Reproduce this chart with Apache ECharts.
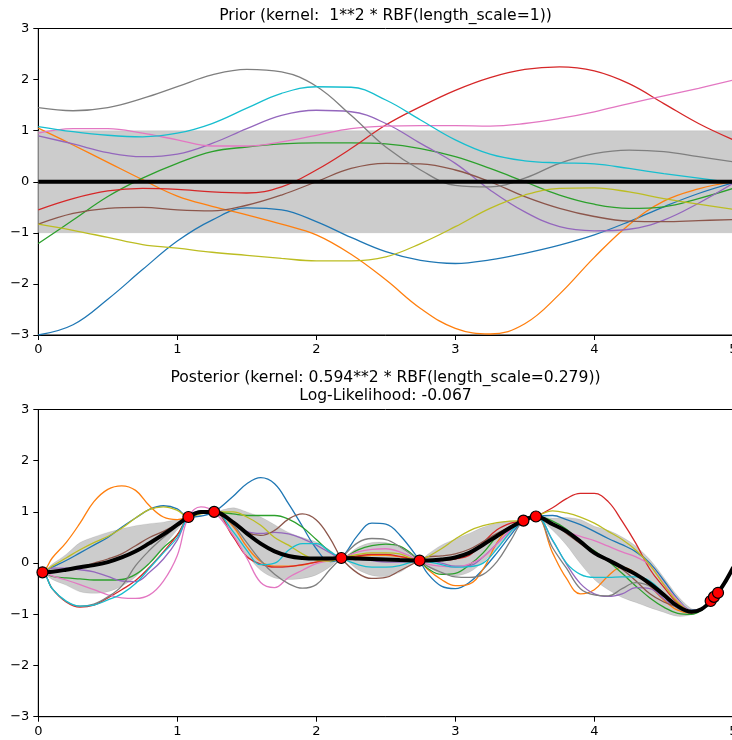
<!DOCTYPE html>
<html><head><meta charset="utf-8">
<script src="https://cdn.jsdelivr.net/npm/echarts@6/dist/echarts.min.js"></script>
<style>html,body{margin:0;padding:0;background:#fff}#c{width:732px;height:740px}</style>
</head><body><div id="c"></div><script>
// ---------- Prior (top panel) ----------
const priorX = [0,0.25,0.5,0.75,1,1.25,1.5,1.75,2,2.25,2.5,2.75,3,3.25,3.5,3.75,4,4.25,4.5,4.75,5];
const priorMean = [0,0,0,0,0,0,0,0,0,0,0,0,0,0,0,0,0,0,0,0,0];
const priorStd  = [1,1,1,1,1,1,1,1,1,1,1,1,1,1,1,1,1,1,1,1,1];
const priorBlue   = [-3.0,-2.8,-2.3,-1.72,-1.16,-0.75,-0.51,-0.55,-0.78,-1.09,-1.37,-1.54,-1.6,-1.53,-1.4,-1.24,-1.04,-0.78,-0.49,-0.23,-0.02];
const priorOrange = [1.05,0.72,0.38,0.04,-0.28,-0.48,-0.65,-0.83,-1.04,-1.42,-1.92,-2.48,-2.87,-2.98,-2.78,-2.2,-1.48,-0.84,-0.38,-0.14,0.0];
const priorGreen  = [-1.21,-0.75,-0.29,0.07,0.36,0.59,0.68,0.74,0.76,0.76,0.74,0.65,0.49,0.26,0.0,-0.26,-0.44,-0.52,-0.49,-0.33,-0.13];
const priorRed    = [-0.55,-0.33,-0.18,-0.13,-0.15,-0.2,-0.22,-0.1,0.23,0.65,1.11,1.47,1.79,2.04,2.2,2.25,2.17,1.92,1.53,1.14,0.82];
const priorPurple = [0.9,0.74,0.57,0.49,0.54,0.75,1.04,1.3,1.4,1.37,1.14,0.75,0.36,-0.16,-0.59,-0.88,-0.96,-0.93,-0.75,-0.42,-0.03];
const priorBrown  = [-0.83,-0.62,-0.52,-0.5,-0.55,-0.57,-0.46,-0.26,0.0,0.26,0.36,0.35,0.23,0.0,-0.29,-0.52,-0.68,-0.77,-0.78,-0.76,-0.74];
const priorPink   = [0.95,1.04,1.04,0.95,0.82,0.7,0.7,0.78,0.91,1.04,1.09,1.1,1.1,1.09,1.14,1.24,1.37,1.53,1.68,1.83,1.99];
const priorGray   = [1.45,1.39,1.45,1.63,1.86,2.09,2.2,2.15,1.87,1.3,0.68,0.23,-0.07,-0.1,0.07,0.36,0.55,0.62,0.59,0.49,0.39];
const priorOlive  = [-0.83,-0.95,-1.09,-1.23,-1.3,-1.38,-1.44,-1.5,-1.55,-1.55,-1.47,-1.21,-0.88,-0.52,-0.26,-0.13,-0.12,-0.2,-0.33,-0.44,-0.54];
const priorCyan   = [1.08,0.98,0.91,0.88,0.95,1.14,1.44,1.73,1.86,1.85,1.6,1.21,0.82,0.54,0.41,0.37,0.35,0.26,0.16,0.07,-0.02];

// ---------- Posterior (bottom panel) ----------
const postX = [0,0.03,0.1,0.2,0.3,0.4,0.5,0.6,0.7,0.8,0.9,1.0,1.08,1.17,1.265,1.4,1.5,1.6,1.7,1.8,1.9,2.0,2.1,2.18,2.3,2.4,2.5,2.6,2.743,2.8,2.9,3.0,3.1,3.2,3.3,3.4,3.49,3.58,3.7,3.8,3.9,4.0,4.1,4.2,4.3,4.4,4.5,4.6,4.7,4.77,4.84,4.92,5.0];
const postMean = [-0.19,-0.18,-0.17,-0.13,-0.08,-0.04,0.02,0.11,0.23,0.39,0.56,0.75,0.9,1.0,1.0,0.8,0.58,0.38,0.23,0.14,0.1,0.09,0.09,0.1,0.09,0.08,0.07,0.06,0.05,0.05,0.07,0.11,0.2,0.36,0.53,0.7,0.83,0.91,0.76,0.62,0.42,0.2,0.06,-0.08,-0.22,-0.4,-0.62,-0.84,-0.95,-0.9,-0.74,-0.46,-0.08];
const postStd  = [0.05,0,0.15,0.3,0.48,0.55,0.58,0.56,0.5,0.38,0.24,0.1,0,0.02,0,0.28,0.42,0.52,0.52,0.46,0.4,0.32,0.16,0,0.22,0.32,0.33,0.24,0,0.12,0.28,0.36,0.38,0.34,0.25,0.12,0,0,0.12,0.27,0.43,0.52,0.58,0.59,0.55,0.47,0.34,0.2,0.06,0.02,0,0.01,0.04];
const postBlue   = [-0.19,-0.18,-0.08,0.05,0.2,0.35,0.5,0.7,0.88,1.05,1.12,1.06,0.9,0.92,1.0,1.3,1.55,1.67,1.55,1.16,0.72,0.28,0.03,0.1,0.55,0.78,0.76,0.55,0.05,-0.2,-0.45,-0.5,-0.38,-0.12,0.2,0.55,0.83,0.91,0.93,0.85,0.75,0.62,0.48,0.36,0.22,0.0,-0.34,-0.7,-0.92,-0.9,-0.74,-0.46,-0.08];
const postOrange = [-0.19,-0.18,0.1,0.4,0.78,1.2,1.44,1.51,1.42,1.12,0.9,0.85,0.9,0.97,1.0,0.72,0.32,0.03,-0.06,-0.06,-0.04,0.02,0.07,0.1,0.13,0.15,0.15,0.12,0.05,-0.12,-0.32,-0.44,-0.41,-0.12,0.4,0.72,0.83,0.91,0.2,-0.3,-0.6,-0.52,-0.25,-0.08,-0.2,-0.45,-0.72,-0.92,-0.98,-0.91,-0.74,-0.46,-0.08];
const postGreen  = [-0.19,-0.18,-0.26,-0.29,-0.31,-0.33,-0.33,-0.32,-0.22,0.0,0.3,0.55,0.9,1.0,1.0,0.96,0.93,0.93,0.93,0.86,0.7,0.46,0.22,0.1,0.26,0.34,0.37,0.33,0.05,-0.1,-0.22,-0.2,-0.04,0.2,0.52,0.72,0.83,0.91,0.82,0.66,0.42,0.24,0.04,-0.2,-0.45,-0.68,-0.86,-0.98,-1.0,-0.92,-0.74,-0.46,-0.08];
const postRed    = [-0.19,-0.18,-0.5,-0.76,-0.86,-0.82,-0.68,-0.52,-0.34,-0.08,0.22,0.55,0.9,1.0,1.0,0.52,0.13,-0.02,-0.08,-0.07,-0.03,0.02,0.06,0.1,0.14,0.17,0.17,0.13,0.05,0.04,0.05,0.08,0.15,0.4,0.65,0.78,0.83,0.91,1.08,1.26,1.36,1.36,1.2,0.82,0.38,-0.12,-0.47,-0.78,-0.94,-0.9,-0.74,-0.46,-0.08];
const postPurple = [-0.19,-0.18,-0.1,-0.1,-0.13,-0.17,-0.26,-0.35,-0.36,-0.18,0.08,0.45,0.9,1.02,1.0,0.78,0.62,0.58,0.6,0.57,0.48,0.35,0.2,0.1,0.08,0.05,0.02,0.02,0.05,0.05,0.0,-0.06,-0.05,0.12,0.38,0.65,0.83,0.91,0.44,-0.02,-0.4,-0.6,-0.65,-0.6,-0.48,-0.5,-0.7,-0.88,-0.96,-0.9,-0.74,-0.46,-0.08];
const postBrown  = [-0.19,-0.18,-0.15,-0.12,-0.08,0.0,0.08,0.18,0.34,0.5,0.62,0.76,0.9,1.0,1.0,0.8,0.6,0.54,0.64,0.86,0.96,0.84,0.48,0.1,-0.2,-0.3,-0.28,-0.15,0.05,0.12,0.14,0.18,0.27,0.42,0.58,0.72,0.83,0.91,0.78,0.58,0.38,0.2,0.04,-0.12,-0.35,-0.6,-0.76,-0.86,-0.95,-0.9,-0.74,-0.46,-0.08];
const postPink   = [-0.19,-0.18,-0.25,-0.33,-0.42,-0.52,-0.62,-0.68,-0.69,-0.62,-0.35,0.15,0.9,1.1,1.0,0.55,0.1,-0.38,-0.48,-0.28,-0.14,-0.01,0.05,0.1,0.22,0.27,0.28,0.22,0.05,-0.02,-0.06,-0.08,-0.02,0.12,0.38,0.65,0.83,0.91,0.78,0.62,0.52,0.44,0.33,0.22,0.12,-0.04,-0.4,-0.72,-0.93,-0.9,-0.74,-0.46,-0.08];
const postGray   = [-0.19,-0.18,-0.5,-0.75,-0.84,-0.8,-0.66,-0.45,-0.05,0.25,0.5,0.72,0.9,1.0,1.0,0.75,0.4,0.05,-0.22,-0.4,-0.49,-0.42,-0.12,0.1,0.4,0.48,0.46,0.32,0.05,-0.06,-0.18,-0.27,-0.28,-0.22,0.03,0.45,0.83,0.91,0.3,-0.1,-0.5,-0.62,-0.64,-0.5,-0.38,-0.45,-0.65,-0.88,-0.97,-0.9,-0.74,-0.46,-0.08];
const postOlive  = [-0.19,-0.18,-0.06,0.1,0.26,0.4,0.52,0.68,0.88,1.05,1.1,1.03,0.9,0.96,1.0,1.0,0.9,0.74,0.5,0.35,0.18,0.06,0.04,0.1,0.17,0.2,0.2,0.18,0.05,0.12,0.28,0.47,0.63,0.73,0.79,0.82,0.83,0.91,1.02,0.98,0.9,0.78,0.62,0.46,0.25,-0.04,-0.42,-0.76,-0.94,-0.9,-0.74,-0.46,-0.08];
const postCyan   = [-0.19,-0.18,-0.5,-0.74,-0.84,-0.82,-0.72,-0.6,-0.4,-0.1,0.2,0.5,0.9,0.98,1.0,0.62,0.25,-0.03,0.0,0.25,0.38,0.38,0.22,0.1,-0.03,-0.08,-0.08,-0.05,0.05,0.03,-0.03,-0.08,-0.07,0.0,0.28,0.62,0.83,0.91,0.45,0.0,-0.22,-0.28,-0.28,-0.27,-0.27,-0.35,-0.6,-0.85,-0.96,-0.9,-0.74,-0.46,-0.08];

const trainX = [0.03,1.08,1.265,2.18,2.743,3.49,3.58,4.837,4.861,4.89];
const trainY = [-0.18,0.9,1.0,0.1,0.05,0.83,0.91,-0.74,-0.66,-0.58];

const xTicks = [0,1,2,3,4,5];
const yTicks = [-3,-2,-1,0,1,2,3];

const priorTitle = 'Prior (kernel:  1**2 * RBF(length_scale=1))';
const postTitle = 'Posterior (kernel: 0.594**2 * RBF(length_scale=0.279))\nLog-Likelihood: -0.067';

// ---------- build ----------
const tab10 = ['#1f77b4','#ff7f0e','#2ca02c','#d62728','#9467bd','#8c564b','#e377c2','#7f7f7f','#bcbd22','#17becf'];
const FONT = 'DejaVu Sans';
const pairs = (xs, ys) => xs.map((x, i) => [x, ys[i]]);
const minus = v => (v < 0 ? '\u2212' + Math.abs(v) : String(v));

function xAxis(g) {
  return {type:'value', gridIndex:g, min:xTicks[0], max:xTicks[xTicks.length-1], interval:1,
    axisLine:{show:true, onZero:false, lineStyle:{color:'#000', width:1}},
    axisTick:{show:true, length:5, inside:false, lineStyle:{color:'#000', width:1}},
    axisLabel:{show:true, color:'#000', fontSize:13, fontFamily:FONT, margin:8, formatter:minus, showMinLabel:true, showMaxLabel:true, hideOverlap:false},
    splitLine:{show:false}};
}
function yAxis(g) {
  return {type:'value', gridIndex:g, min:yTicks[0], max:yTicks[yTicks.length-1], interval:1,
    axisLine:{show:true, onZero:false, lineStyle:{color:'#000', width:1}},
    axisTick:{show:true, length:5, inside:false, lineStyle:{color:'#000', width:1}},
    axisLabel:{show:true, color:'#000', fontSize:13, fontFamily:FONT, margin:9, formatter:minus, showMinLabel:true, showMaxLabel:true, hideOverlap:false},
    splitLine:{show:false}};
}
// mean ± std band drawn as one polygon through the axis scales
function band(g, xs, mean, std, smooth) {
  return {type:'custom', coordinateSystem:'cartesian2d', xAxisIndex:g, yAxisIndex:g,
    data:[[xs[0], mean[0]]], silent:true, z:1, clip:true,
    renderItem:function(params, api) {
      const up = xs.map((x, i) => api.coord([x, mean[i] + std[i]]));
      const lo = xs.map((x, i) => api.coord([x, mean[i] - std[i]])).reverse();
      return {type:'polygon', shape:{points:up.concat(lo), smooth:smooth},
        style:{fill:'#cccccc', stroke:'rgba(0,0,0,0.1)', lineWidth:0.8}};
    }};
}
function sample(g, xs, ys, c, k) {
  return {type:'line', xAxisIndex:g, yAxisIndex:g, data:pairs(xs, ys), symbol:'none', smooth:0.4,
    silent:true, z:2 + k*0.01, clip:true, lineStyle:{width:1.3, color:c}};
}
function meanLine(g, xs, ys) {
  return {type:'line', xAxisIndex:g, yAxisIndex:g, data:pairs(xs, ys), symbol:'none', smooth:0.4,
    silent:true, z:5, clip:true, lineStyle:{width:4, color:'#000'}};
}

const priorSamples = [priorBlue, priorOrange, priorGreen, priorRed, priorPurple, priorBrown, priorPink, priorGray, priorOlive, priorCyan];
const postSamples = [postBlue, postOrange, postGreen, postRed, postPurple, postBrown, postPink, postGray, postOlive, postCyan];

const series = [];
series.push(band(0, priorX, priorMean, priorStd, 0));
priorSamples.forEach((s, k) => series.push(sample(0, priorX, s, tab10[k], k)));
series.push(meanLine(0, priorX, priorMean));
series.push(band(1, postX, postMean, postStd, 0.3));
postSamples.forEach((s, k) => series.push(sample(1, postX, s, tab10[k], k)));
series.push(meanLine(1, postX, postMean));
series.push({type:'scatter', xAxisIndex:1, yAxisIndex:1, data:pairs(trainX, trainY), symbol:'circle', symbolSize:11,
  z:10, silent:true, itemStyle:{color:'#ff0000', borderColor:'#000', borderWidth:1.2, opacity:1}});

const titleStyle = {fontFamily:FONT, fontSize:15.6, fontWeight:'normal', color:'#000', lineHeight:18};
const option = {
  animation:false,
  backgroundColor:'#fff',
  title:[
    {text:priorTitle, left:385.5, top:8, textAlign:'center', padding:0, textStyle:Object.assign({}, titleStyle, {lineHeight:16})},
    {text:postTitle, left:385.5, top:369, textAlign:'center', padding:0, textStyle:titleStyle}
  ],
  grid:[
    {left:38.3, top:28.5, width:695, height:306.5, show:true, borderColor:'#000', borderWidth:1, backgroundColor:'transparent', containLabel:false, outerBoundsMode:'none'},
    {left:38.3, top:409.5, width:695, height:307.2, show:true, borderColor:'#000', borderWidth:1, backgroundColor:'transparent', containLabel:false, outerBoundsMode:'none'}
  ],
  xAxis:[xAxis(0), xAxis(1)],
  yAxis:[yAxis(0), yAxis(1)],
  series:series
};
const chart = echarts.init(document.getElementById('c'), null, {renderer:'canvas'});
chart.setOption(option);
</script></body></html>
